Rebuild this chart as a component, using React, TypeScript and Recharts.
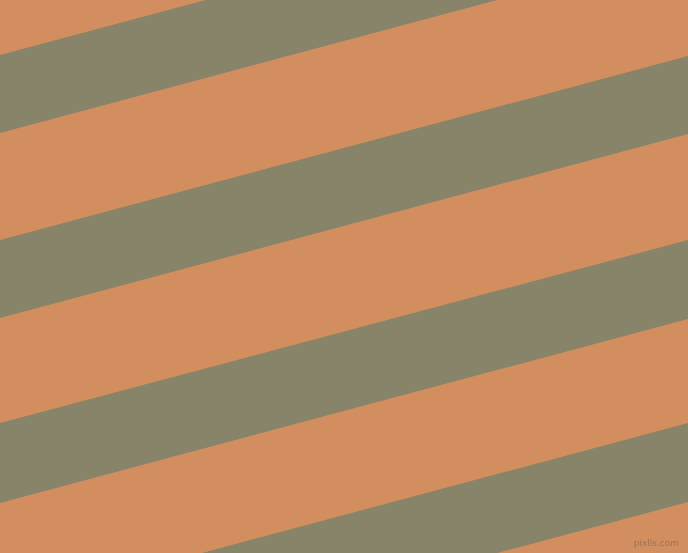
import React from 'react';
import { ComposedChart, Area, XAxis, YAxis, ReferenceArea } from 'recharts';

// x positions of the two ends of every stripe
const xEdges = [0, 688];

// gray stripes: [top, bottom] at the left edge and at the right edge
const stripeA = [[55, 133], [-129, -51]];
const stripeB = [[240, 318], [56, 134]];
const stripeC = [[423, 503], [240, 319]];
const stripeD = [[607, 686], [423, 502]];

const stripes = [stripeA, stripeB, stripeC, stripeD];

const ORANGE = '#D28E5F';
const GRAY = '#88846A';

const data = xEdges.map((x, i) => {
  const row: Record<string, number | number[]> = { x };
  stripes.forEach((s, k) => {
    row[`s${k}`] = s[i];
  });
  return row;
});

const App: React.FC = () => {
  return (
    <div style={{ position: 'fixed', top: 0, left: 0, width: 688, height: 553 }}>
      <ComposedChart width={688} height={553} data={data} margin={{ top: 0, right: 0, left: 0, bottom: 0 }}>
        <XAxis dataKey="x" type="number" domain={[0, 688]} hide allowDataOverflow />
        <YAxis type="number" domain={[0, 553]} reversed hide allowDataOverflow />
        <ReferenceArea x1={0} x2={688} y1={0} y2={553} fill={ORANGE} fillOpacity={1} stroke="none" />
        {stripes.map((_, k) => (
          <Area
            key={`s${k}`}
            dataKey={`s${k}`}
            type="linear"
            fill={GRAY}
            fillOpacity={1}
            stroke="none"
            isAnimationActive={false}
            dot={false}
            activeDot={false}
          />
        ))}
      </ComposedChart>
      <span
        style={{
          position: 'absolute',
          right: 9,
          bottom: 5,
          fontFamily: 'DejaVu Sans, sans-serif',
          fontSize: 9,
          lineHeight: '10px',
          color: 'rgba(130, 115, 100, 0.85)',
        }}
      >
        pixlis.com
      </span>
    </div>
  );
};

export default App;
